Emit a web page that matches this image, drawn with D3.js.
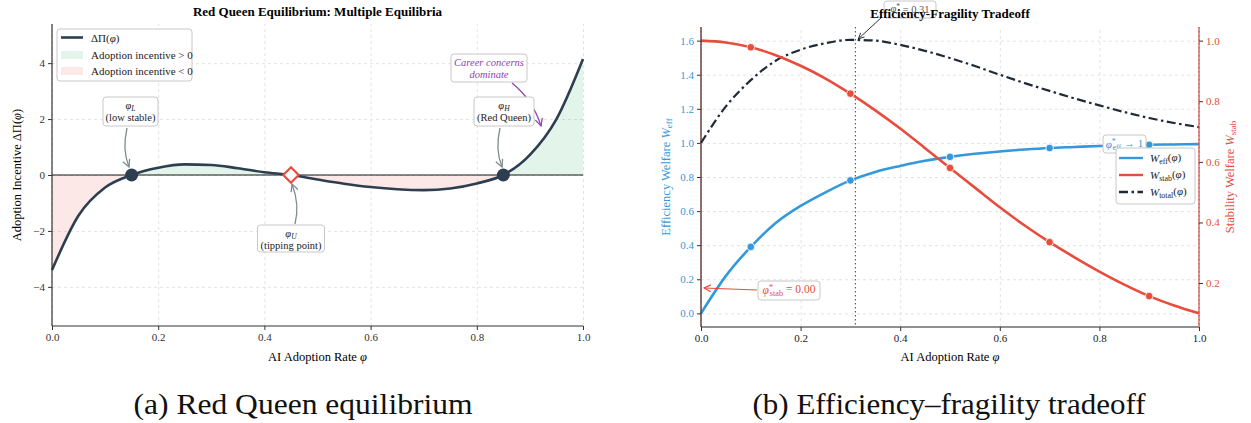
<!DOCTYPE html>
<html lang="en">
<head>
<meta charset="UTF-8" />
<title>Red Queen Equilibrium and Efficiency-Fragility Tradeoff</title>
<script src="https://d3js.org/d3.v7.min.js"></script>
<style>
  body { margin: 0; background: #fff; }
  svg, svg text { font-family: 'Liberation Serif', 'Times New Roman', serif; }
  .grid line { stroke: #e3e3e3; stroke-dasharray: 3,3; }
  .grid path { stroke: none; }
  .axis line { stroke: #333; }
  .axis text { font-size: 11px; }
  .box { fill: #fff; stroke: #c8c8c8; stroke-width: 1; }
</style>
</head>
<body>
<div id="chart"></div>
<script>
// ---- data ----
const phi = [0, 0.05, 0.1, 0.15, 0.2, 0.25, 0.3, 0.35, 0.4, 0.45, 0.5,
             0.55, 0.6, 0.65, 0.7, 0.75, 0.8, 0.85, 0.9, 0.95, 1.0];
// panel (a): adoption incentive
const deltaPi = [-3.40, -1.45, -0.45, 0.00, 0.26, 0.38, 0.36, 0.24, 0.10, 0.00, -0.16,
                 -0.31, -0.43, -0.51, -0.54, -0.48, -0.30, 0.00, 0.72, 2.00, 4.15];
const stablePts = [0.15, 0.85];
const tippingPt = 0.45;
// panel (b): welfare curves
const wEff   = [0, 0.22, 0.39, 0.53, 0.63, 0.71, 0.78, 0.83, 0.865, 0.895, 0.918,
                0.936, 0.95, 0.961, 0.97, 0.976, 0.982, 0.986, 0.989, 0.991, 0.993];
const wStab  = [1.0, 0.994, 0.978, 0.952, 0.917, 0.875, 0.825, 0.77, 0.71, 0.645, 0.58,
                0.515, 0.45, 0.39, 0.335, 0.285, 0.238, 0.195, 0.157, 0.126, 0.10];
const wTotal = [1.0, 1.214, 1.368, 1.482, 1.547, 1.585, 1.605, 1.60, 1.575, 1.54, 1.498,
                1.451, 1.40, 1.351, 1.305, 1.261, 1.22, 1.181, 1.146, 1.117, 1.093];
const markerPhi = [0.1, 0.3, 0.5, 0.7, 0.9];
const phiStar = 0.31;
const phiStabStar = 0.0;
const phiEffStar = 1.0;
// ticks
const xTicks = [0, 0.2, 0.4, 0.6, 0.8, 1.0];
const yTicksA = [-4, -2, 0, 2, 4];
const yTicksBLeft = [0, 0.2, 0.4, 0.6, 0.8, 1.0, 1.2, 1.4, 1.6];
const yTicksBRight = [0.2, 0.4, 0.6, 0.8, 1.0];

const navy = '#2c3e50', red = '#e74c3c', blue = '#3498db', green = '#27ae60',
      purple = '#8e44ad', grey = '#7f8c8d';
const serif = "'Liberation Serif', 'Times New Roman', serif";

const svg = d3.select('#chart').append('svg')
  .attr('width', 1251).attr('height', 423).attr('font-family', serif);

const defs = svg.append('defs');
function arrowMarker(id, color) {
  defs.append('marker').attr('id', id)
    .attr('viewBox', '0 0 10 10').attr('refX', 9).attr('refY', 5)
    .attr('markerWidth', 7).attr('markerHeight', 7)
    .attr('orient', 'auto-start-reverse')
    .append('path').attr('d', 'M1,1 L9,5 L1,9')
    .attr('fill', 'none').attr('stroke', color).attr('stroke-width', 1.4);
}
arrowMarker('arr-grey', grey);
arrowMarker('arr-purple', purple);
arrowMarker('arr-black', '#333');
arrowMarker('arr-red', red);

// italic symbol with subscript
function sub(sel, main, subTxt, rest, italicSub = false) {
  sel.append('tspan').attr('font-style', 'italic').text(main);
  sel.append('tspan').attr('font-size', '0.72em').attr('dy', '0.25em')
    .attr('font-style', italicSub ? 'italic' : null).text(subTxt);
  if (rest) sel.append('tspan').attr('dy', '-0.25em').text(rest);
}

function labelBox(g, cx, y0, w, h, lines, color, italicAll) {
  g.append('rect').attr('class', 'box')
    .attr('x', cx - w / 2).attr('y', y0).attr('width', w).attr('height', h).attr('rx', 3);
  lines.forEach((ln, i) => {
    const t = g.append('text').attr('x', cx).attr('y', y0 + 12 + i * 12)
      .attr('text-anchor', 'middle').attr('font-size', 10.5).attr('fill', color)
      .attr('font-style', italicAll ? 'italic' : null);
    if (typeof ln === 'function') ln(t); else t.text(ln);
  });
}

function styleAxis(g, spineColor, labelColor) {
  g.attr('font-family', serif);
  g.select('.domain').style('stroke', spineColor).style('stroke-width', 1.2);
  g.selectAll('.tick line').style('stroke', '#333');
  g.selectAll('.tick text').style('fill', labelColor).style('font-size', '11px');
}

// ================= panel (a) =================
const ax = d3.scaleLinear().domain([0, 1]).range([52, 583]);
const ay = d3.scaleLinear().domain([-5.4, 5.4]).range([326, 24]);
const ga = svg.append('g');

ga.append('g').attr('class', 'grid').attr('transform', 'translate(0,326)')
  .call(d3.axisBottom(ax).tickValues(xTicks).tickSize(-302).tickFormat(''));
ga.append('g').attr('class', 'grid').attr('transform', 'translate(52,0)')
  .call(d3.axisLeft(ay).tickValues(yTicksA).tickSize(-531).tickFormat(''));

const ptsA = phi.map((p, i) => [p, deltaPi[i]]);
const areaA = d3.area().x(d => ax(d[0])).y0(ay(0)).y1(d => ay(d[1])).curve(d3.curveMonotoneX);
defs.append('clipPath').attr('id', 'clip-pos').append('rect')
  .attr('x', 52).attr('y', 0).attr('width', 531).attr('height', ay(0));
defs.append('clipPath').attr('id', 'clip-neg').append('rect')
  .attr('x', 52).attr('y', ay(0)).attr('width', 531).attr('height', 400);
ga.append('path').datum(ptsA).attr('d', areaA).attr('fill', green).attr('fill-opacity', 0.13)
  .attr('clip-path', 'url(#clip-pos)');
ga.append('path').datum(ptsA).attr('d', areaA).attr('fill', red).attr('fill-opacity', 0.13)
  .attr('clip-path', 'url(#clip-neg)');

ga.append('line').attr('x1', 52).attr('x2', 583).attr('y1', ay(0)).attr('y2', ay(0))
  .attr('stroke', '#000').attr('stroke-width', 0.9);

ga.append('path').datum(ptsA)
  .attr('d', d3.line().x(d => ax(d[0])).y(d => ay(d[1])).curve(d3.curveMonotoneX))
  .attr('fill', 'none').attr('stroke', navy).attr('stroke-width', 2.6);

// axes
const axBottomA = ga.append('g').attr('class', 'axis').attr('transform', 'translate(0,326)')
  .call(d3.axisBottom(ax).tickValues(xTicks).tickSize(4).tickFormat(d3.format('.1f')));
const axLeftA = ga.append('g').attr('class', 'axis').attr('transform', 'translate(52,0)')
  .call(d3.axisLeft(ay).tickValues(yTicksA).tickSize(4).tickFormat(d => d < 0 ? '\u2212' + (-d) : d));
axLeftA.select('.domain').attr('d', 'M0,24V326');
axBottomA.select('.domain').attr('d', 'M52,0H583');
styleAxis(axBottomA, '#333', '#333');
styleAxis(axLeftA, '#333', '#333');

// annotations (a)
const annA = ga.append('g');
annA.append('path').attr('d', `M127,128 Q122,150 129,${ay(0) - 8}`)
  .attr('fill', 'none').attr('stroke', grey).attr('stroke-width', 1.3).attr('marker-end', 'url(#arr-grey)');
annA.append('path').attr('d', `M295,224 Q300,205 292,${ay(0) + 9}`)
  .attr('fill', 'none').attr('stroke', grey).attr('stroke-width', 1.3).attr('marker-end', 'url(#arr-grey)');
annA.append('path').attr('d', `M500,128 Q495,150 502,${ay(0) - 8}`)
  .attr('fill', 'none').attr('stroke', grey).attr('stroke-width', 1.3).attr('marker-end', 'url(#arr-grey)');
annA.append('path').attr('d', 'M512,83 Q533,100 541,126')
  .attr('fill', 'none').attr('stroke', purple).attr('stroke-width', 1.3).attr('marker-end', 'url(#arr-purple)');

labelBox(annA, 130.5, 97, 55, 29, [t => sub(t, 'φ', 'L', null, true), '(low stable)'], '#222');
labelBox(annA, 291, 225, 67, 27, [t => sub(t, 'φ', 'U', null, true), '(tipping point)'], '#222');
labelBox(annA, 504, 97, 60, 29, [t => sub(t, 'φ', 'H', null, true), '(Red Queen)'], '#222');
labelBox(annA, 489, 54, 76, 28, ['Career concerns', 'dominate'], purple, true);

// equilibria markers
ga.selectAll('.stable').data(stablePts).join('circle')
  .attr('cx', d => ax(d)).attr('cy', ay(0)).attr('r', 6.5).attr('fill', navy);
ga.append('path').attr('d', d3.symbol(d3.symbolDiamond2, 150)())
  .attr('transform', `translate(${ax(tippingPt)},${ay(0)})`)
  .attr('fill', '#fff').attr('stroke', red).attr('stroke-width', 2.2);

// legend (a)
const legA = ga.append('g');
legA.append('rect').attr('class', 'box').attr('x', 57).attr('y', 29).attr('width', 135).attr('height', 52).attr('rx', 3);
legA.append('line').attr('x1', 61).attr('x2', 83).attr('y1', 37.5).attr('y2', 37.5)
  .attr('stroke', navy).attr('stroke-width', 2.6);
legA.append('rect').attr('x', 61).attr('y', 51).attr('width', 22).attr('height', 8).attr('fill', green).attr('fill-opacity', 0.13);
legA.append('rect').attr('x', 61).attr('y', 67).attr('width', 22).attr('height', 8).attr('fill', red).attr('fill-opacity', 0.13);
const lt1 = legA.append('text').attr('x', 91).attr('y', 41.5).attr('font-size', 11).attr('fill', '#222');
lt1.append('tspan').text('ΔΠ(');
lt1.append('tspan').attr('font-style', 'italic').text('φ');
lt1.append('tspan').text(')');
legA.append('text').attr('x', 91).attr('y', 58.5).attr('font-size', 11).attr('fill', '#222').text('Adoption incentive > 0');
legA.append('text').attr('x', 91).attr('y', 74.5).attr('font-size', 11).attr('fill', '#222').text('Adoption incentive < 0');

// titles/labels (a)
ga.append('text').attr('x', 317.5).attr('y', 16).attr('text-anchor', 'middle')
  .attr('font-size', 13).attr('font-weight', 'bold').text('Red Queen Equilibrium: Multiple Equilibria');
const xlA = ga.append('text').attr('x', 317.5).attr('y', 361).attr('text-anchor', 'middle').attr('font-size', 12.5);
xlA.append('tspan').text('AI Adoption Rate ');
xlA.append('tspan').attr('font-style', 'italic').text('φ');
const ylA = ga.append('text').attr('transform', `translate(21,${ay(0)}) rotate(-90)`)
  .attr('text-anchor', 'middle').attr('font-size', 12.5);
ylA.append('tspan').text('Adoption Incentive ΔΠ(');
ylA.append('tspan').attr('font-style', 'italic').text('φ');
ylA.append('tspan').text(')');

// ================= panel (b) =================
const bx = d3.scaleLinear().domain([0, 1]).range([701, 1199]);
const byL = d3.scaleLinear().domain([-0.08, 1.68]).range([327, 27]);
const byR = d3.scaleLinear().domain([0.055, 1.045]).range([327, 27]);
const gb = svg.append('g');

gb.append('g').attr('class', 'grid').attr('transform', 'translate(0,327)')
  .call(d3.axisBottom(bx).tickValues(xTicks).tickSize(-300).tickFormat(''));
gb.append('g').attr('class', 'grid').attr('transform', 'translate(701,0)')
  .call(d3.axisLeft(byL).tickValues(yTicksBLeft).tickSize(-498).tickFormat(''));

// reference verticals
gb.append('line').attr('x1', bx(phiStar)).attr('x2', bx(phiStar)).attr('y1', 27).attr('y2', 327)
  .attr('stroke', '#555').attr('stroke-width', 1.1).attr('stroke-dasharray', '1.5,2.5');
gb.append('line').attr('x1', bx(phiEffStar)).attr('x2', bx(phiEffStar)).attr('y1', 27).attr('y2', 327)
  .attr('stroke', blue).attr('stroke-width', 1.1).attr('stroke-dasharray', '1.5,2.5');

const lineB = (ys, sc) => d3.line().x((d, i) => bx(phi[i])).y(d => sc(d)).curve(d3.curveMonotoneX)(ys);
gb.append('path').attr('d', lineB(wTotal, byL)).attr('fill', 'none').attr('stroke', '#1f2a36')
  .attr('stroke-width', 2.2).attr('stroke-dasharray', '9,3.5,2.5,3.5');
gb.append('path').attr('d', lineB(wEff, byL)).attr('fill', 'none').attr('stroke', blue).attr('stroke-width', 2.6);
gb.append('path').attr('d', lineB(wStab, byR)).attr('fill', 'none').attr('stroke', red).attr('stroke-width', 2.6);

gb.selectAll('.me').data(markerPhi).join('circle')
  .attr('cx', d => bx(d)).attr('cy', d => byL(wEff[phi.indexOf(d)])).attr('r', 3.8)
  .attr('fill', blue).attr('stroke', '#fff').attr('stroke-width', 0.8);
gb.selectAll('.ms').data(markerPhi).join('circle')
  .attr('cx', d => bx(d)).attr('cy', d => byR(wStab[phi.indexOf(d)])).attr('r', 3.8)
  .attr('fill', red).attr('stroke', '#fff').attr('stroke-width', 0.8);

// axes (b)
const bxAxis = gb.append('g').attr('class', 'axis').attr('transform', 'translate(0,327)')
  .call(d3.axisBottom(bx).tickValues(xTicks).tickSize(4).tickFormat(d3.format('.1f')));
bxAxis.select('.domain').attr('d', 'M701,0H1199');
styleAxis(bxAxis, '#222', '#222');
const byLAxis = gb.append('g').attr('class', 'axis').attr('transform', 'translate(701,0)')
  .call(d3.axisLeft(byL).tickValues(yTicksBLeft).tickSize(4).tickFormat(d3.format('.1f')));
byLAxis.select('.domain').attr('d', 'M0,27V327');
styleAxis(byLAxis, '#222', blue);
const byRAxis = gb.append('g').attr('class', 'axis').attr('transform', 'translate(1199,0)')
  .call(d3.axisRight(byR).tickValues(yTicksBRight).tickSize(4).tickFormat(d3.format('.1f')));
byRAxis.select('.domain').attr('d', 'M0,27V327');
styleAxis(byRAxis, red, red);
// red dotted stability optimum at phi = 0 (over the left spine)
gb.append('line').attr('x1', bx(phiStabStar)).attr('x2', bx(phiStabStar)).attr('y1', 27).attr('y2', 327)
  .attr('stroke', red).attr('stroke-width', 1.1).attr('stroke-dasharray', '1.5,2.5');

// annotations (b)
gb.append('path').attr('d', `M757,290 L${bx(0) + 3},288`)
  .attr('fill', 'none').attr('stroke', red).attr('stroke-width', 1.2).attr('marker-end', 'url(#arr-red)');
const bStab = gb.append('g');
bStab.append('rect').attr('class', 'box').attr('x', 758).attr('y', 281).attr('width', 62).attr('height', 19).attr('rx', 3);
const ts = bStab.append('text').attr('x', 789).attr('y', 294).attr('text-anchor', 'middle').attr('font-size', 11.5).attr('fill', red);
ts.append('tspan').attr('font-style', 'italic').text('φ');
ts.append('tspan').attr('font-size', '0.72em').attr('dy', '-0.45em').text('*');
ts.append('tspan').attr('font-size', '0.72em').attr('dx', '-0.4em').attr('dy', '0.75em').text('stab');
ts.append('tspan').attr('dy', '-0.3em').text(' = 0.00');

const bEff = gb.append('g');
bEff.append('rect').attr('class', 'box').attr('x', 1103).attr('y', 135).attr('width', 43).attr('height', 18).attr('rx', 3);
const te = bEff.append('text').attr('x', 1124.5).attr('y', 148).attr('text-anchor', 'middle').attr('font-size', 11).attr('fill', blue);
te.append('tspan').attr('font-style', 'italic').text('φ');
te.append('tspan').attr('font-size', '0.72em').attr('dy', '-0.45em').text('*');
te.append('tspan').attr('font-size', '0.72em').attr('dx', '-0.4em').attr('dy', '0.75em').text('eff');
te.append('tspan').attr('dy', '-0.3em').text(' → 1');

gb.append('path').attr('d', `M882,17 L${bx(phiStar) + 3},${byL(wTotal[6]) - 1}`)
  .attr('fill', 'none').attr('stroke', '#333').attr('stroke-width', 1).attr('marker-end', 'url(#arr-black)');
const bStar = gb.append('g');
bStar.append('rect').attr('class', 'box').attr('x', 884).attr('y', 1).attr('width', 52).attr('height', 17).attr('rx', 3);
const tp = bStar.append('text').attr('x', 910).attr('y', 12).attr('text-anchor', 'middle').attr('font-size', 10.5).attr('fill', '#555');
tp.append('tspan').attr('font-style', 'italic').text('φ');
tp.append('tspan').attr('font-size', '0.72em').attr('dy', '-0.45em').text('*');
tp.append('tspan').attr('dy', '0.45em').text(' = 0.31');

gb.append('text').attr('x', 950).attr('y', 18).attr('text-anchor', 'middle')
  .attr('font-size', 13).attr('font-weight', 'bold').text('Efficiency-Fragility Tradeoff');

// legend (b)
const legB = gb.append('g');
legB.append('rect').attr('class', 'box').attr('x', 1116).attr('y', 148).attr('width', 79).attr('height', 56).attr('rx', 3);
[[blue, null, 'eff'], [red, null, 'stab'], ['#1f2a36', '9,3.5,2.5,3.5', 'total']].forEach((e, i) => {
  const yy = 158 + i * 17;
  legB.append('line').attr('x1', 1119).attr('x2', 1143).attr('y1', yy).attr('y2', yy)
    .attr('stroke', e[0]).attr('stroke-width', 2.4).attr('stroke-dasharray', e[1]);
  const t = legB.append('text').attr('x', 1150).attr('y', yy + 4).attr('font-size', 11).attr('fill', '#222');
  t.append('tspan').attr('font-style', 'italic').text('W');
  t.append('tspan').attr('font-size', '0.72em').attr('dy', '0.25em').text(e[2]);
  t.append('tspan').attr('dy', '-0.25em').text('(');
  t.append('tspan').attr('font-style', 'italic').text('φ');
  t.append('tspan').text(')');
});

// axis labels (b)
const xlB = gb.append('text').attr('x', 950).attr('y', 361).attr('text-anchor', 'middle').attr('font-size', 12.5);
xlB.append('tspan').text('AI Adoption Rate ');
xlB.append('tspan').attr('font-style', 'italic').text('φ');
const ylB = gb.append('text').attr('transform', 'translate(670,177) rotate(-90)')
  .attr('text-anchor', 'middle').attr('font-size', 12.5).attr('fill', blue);
ylB.append('tspan').text('Efficiency Welfare ');
sub(ylB, 'W', 'eff');
const yrB = gb.append('text').attr('transform', 'translate(1234,177) rotate(-90)')
  .attr('text-anchor', 'middle').attr('font-size', 12.5).attr('fill', red);
yrB.append('tspan').text('Stability Welfare ');
sub(yrB, 'W', 'stab');

// captions
svg.append('text').attr('x', 303).attr('y', 414).attr('text-anchor', 'middle')
  .attr('font-size', 29).attr('fill', '#111')
  .attr('textLength', 339).attr('lengthAdjust', 'spacingAndGlyphs')
  .text('(a) Red Queen equilibrium');
svg.append('text').attr('x', 949).attr('y', 414).attr('text-anchor', 'middle')
  .attr('font-size', 29).attr('fill', '#111')
  .attr('textLength', 393).attr('lengthAdjust', 'spacingAndGlyphs')
  .text('(b) Efficiency\u2013fragility tradeoff');
</script>
</body>
</html>
